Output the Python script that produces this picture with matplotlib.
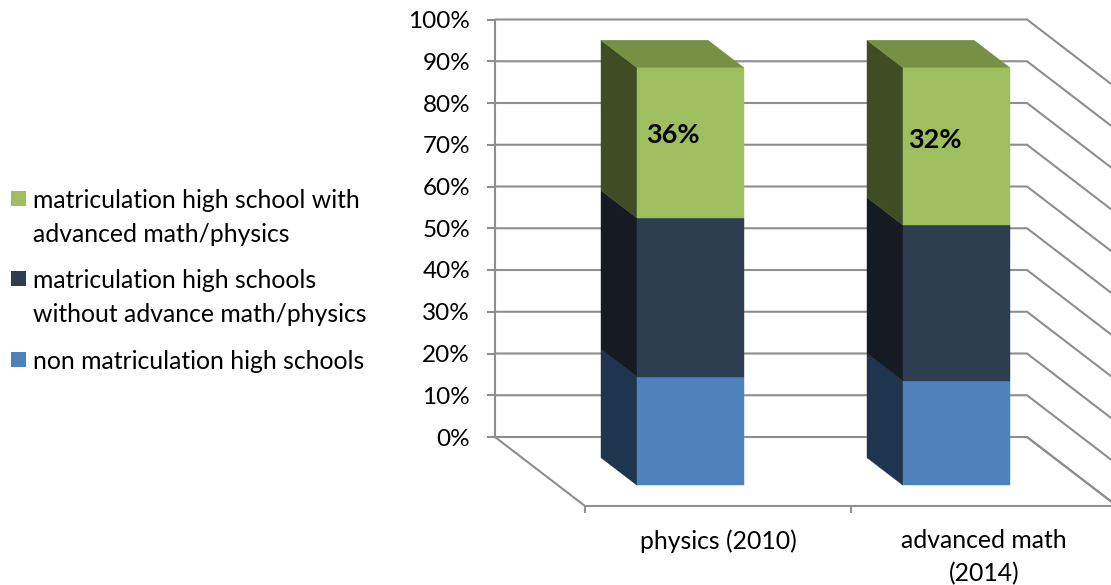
import matplotlib
matplotlib.use('Agg')
import matplotlib.pyplot as plt
from matplotlib.patches import Polygon, Rectangle
from matplotlib.transforms import Affine2D

categories = ['physics (2010)', 'advanced math\n(2014)']
series_names = ['non matriculation high schools',
                'matriculation high schools\nwithout advance math/physics',
                'matriculation high school with\nadvanced math/physics']
non_matric = [26, 25]
matric_plain = [38, 37.3]
matric_advanced = [36, 37.7]
bar_labels = ['36%', '32%']
y_ticks = [0, 10, 20, 30, 40, 50, 60, 70, 80, 90, 100]

front_colors = ['#4F81BD', '#2C3E50', '#9FBE5F']
side_colors = ['#1F344F', '#141B22', '#404D24']
top_color = '#789044'
line_color = '#8E8E8E'
font = 'Lato'
text_size = 17.5
legend_size = 17.8

W, H = 1111, 585
X0, Y0 = 495, 437      # pixel of back wall origin
XU, YU = 266, 4.175    # pixels per category / per percent
DX, DY = 90 / XU, -69 / YU   # depth offset in data units


def proj(x, pct, d=0.0):
    return x + d * DX, pct + d * DY


fig = plt.figure(figsize=(W / 100, H / 100), dpi=100)
ax = fig.add_axes([0, 0, 1, 1])
ax.set_xlim(-X0 / XU, (W - X0) / XU)
ax.set_ylim((Y0 - H) / YU, Y0 / YU)
ax.axis('off')
px = Affine2D().scale(1, -1).translate(0, H)  # pixels from top left


def seg(*pts):
    xs, ys = zip(*pts)
    ax.plot(xs, ys, color=line_color, lw=1.5, solid_capstyle='butt',
            solid_joinstyle='miter', zorder=1)


# walls
n = len(categories)
for t in y_ticks:
    seg(proj(0, t), proj(n, t), proj(n, t, 1))
    seg(proj(0, t), (proj(0, t)[0] - 8 / XU, t))
    ax.text(-25 / XU, t, f'{t}%', ha='right', va='center_baseline',
            fontsize=text_size, family=font, color='black')
seg(proj(0, 0), proj(0, 100))
seg(proj(0, 0), proj(0, 0, 1), proj(n, 0, 1), proj(n, 0))
for i in range(n + 1):
    x, y = proj(i, 0, 1)
    seg((x, y), (x, y - 7 / YU))
for i, c in enumerate(categories):
    x, y = proj(i + 0.5, 0, 1)
    ax.text(x, y - 23 / YU, c, ha='center', va='top', fontsize=legend_size,
            family=font, color='black', linespacing=1.5)

# bars
L, R = 0.297, 0.699
D0, D1 = 0.3, 0.7
for i in range(n):
    base = 0
    vals = [non_matric[i], matric_plain[i], matric_advanced[i]]
    l, r = i + L, i + R
    for v, fc, sc in zip(vals, front_colors, side_colors):
        top = base + v
        ax.add_patch(Polygon([proj(l, base, D0), proj(l, base, D1),
                              proj(l, top, D1), proj(l, top, D0)],
                             fc=sc, ec=sc, lw=0.3, zorder=2))
        ax.add_patch(Polygon([proj(l, base, D1), proj(r, base, D1),
                              proj(r, top, D1), proj(l, top, D1)],
                             fc=fc, ec=fc, lw=0.3, zorder=3))
        base = top
    ax.add_patch(Polygon([proj(l, base, D0), proj(r, base, D0),
                          proj(r, base, D1), proj(l, base, D1)],
                         fc=top_color, ec=top_color, lw=0.3, zorder=2))

ax.text(672.5, 135, bar_labels[0], transform=px, ha='center', va='center',
        fontsize=19.5, fontweight='bold', family=font, color='black', zorder=5)
ax.text(934.5, 140, bar_labels[1], transform=px, ha='center', va='center',
        fontsize=19.5, fontweight='bold', family=font, color='black', zorder=5)

# legend
for name, color, ypos in zip(series_names, front_colors, [352, 271, 191]):
    ax.add_patch(Rectangle((11, ypos + 15), 15, -15, transform=px, fc=color,
                           ec='none'))
    ax.text(33, ypos - 2, name, transform=px, ha='left', va='top',
            fontsize=legend_size, family=font, color='black', linespacing=1.57)

fig.savefig('out.png', dpi=100, facecolor='white')
